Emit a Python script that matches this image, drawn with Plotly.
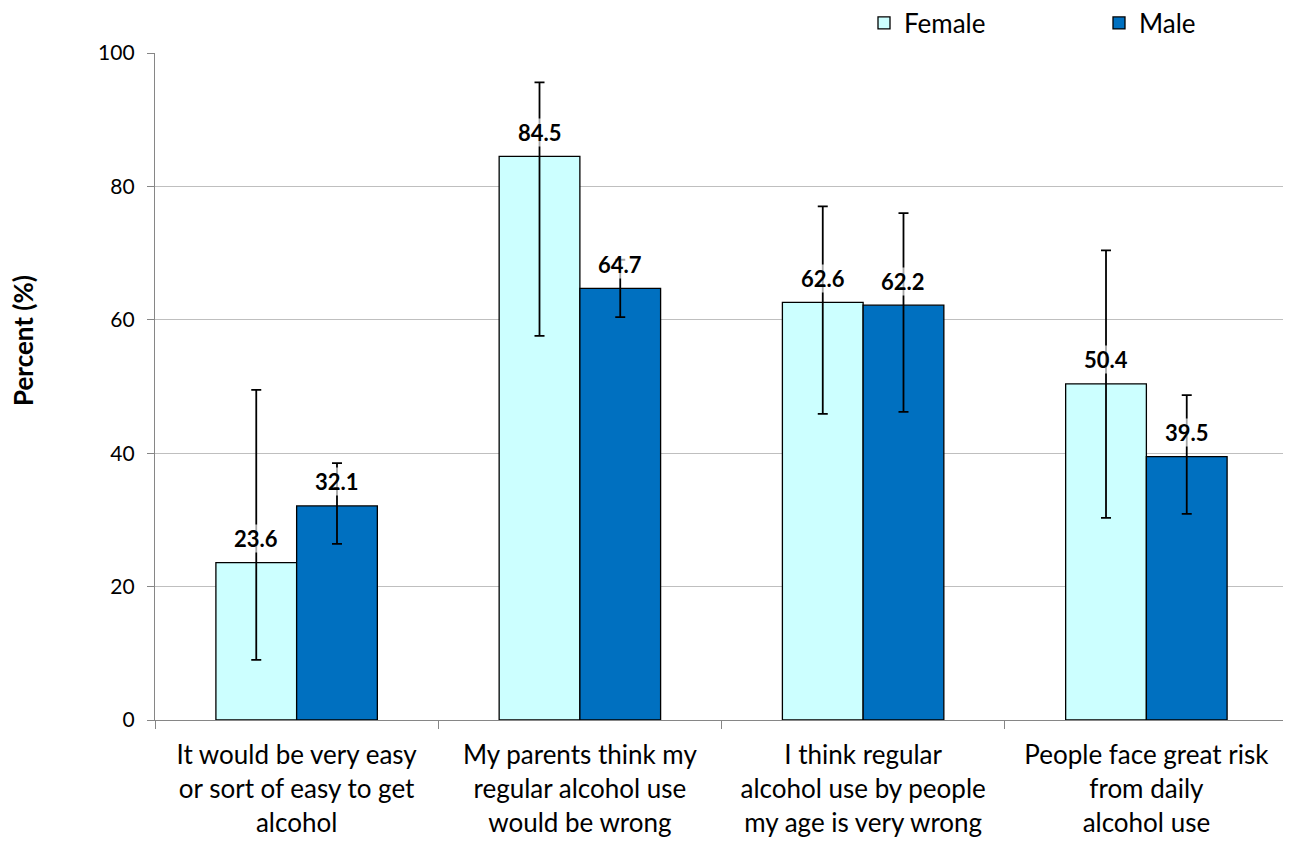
import plotly.graph_objects as go

categories = [
    "It would be very easy<br>or sort of easy to get<br>alcohol",
    "My parents think my<br>regular alcohol use<br>would be wrong",
    "I think regular<br>alcohol use by people<br>my age is very wrong",
    "People face great risk<br>from daily<br>alcohol use",
]
female = [23.6, 84.5, 62.6, 50.4]
male = [32.1, 64.7, 62.2, 39.5]
female_upper = [49.5, 95.6, 77.0, 70.4]
female_lower = [9.0, 57.6, 45.9, 30.3]
male_upper = [38.5, 69.0, 76.0, 48.7]
male_lower = [26.4, 60.4, 46.2, 30.9]

FONT = "Lato"
bargap = 0.43

W, H = 1283, 838
ml, mr, mt, mb = 147, 3, 45, 126
pw, ph = W - ml - mr, H - mt - mb

fig = go.Figure()
fig.add_trace(go.Bar(
    name="Female", x=categories, y=female,
    marker=dict(color="#CCFFFF", line=dict(color="#000000", width=1.3)),
    error_y=dict(type="data", symmetric=False,
                 array=[u - v for u, v in zip(female_upper, female)],
                 arrayminus=[v - l for v, l in zip(female, female_lower)],
                 color="#000000", thickness=1.8, width=5),
))
fig.add_trace(go.Bar(
    name="Male", x=categories, y=male,
    marker=dict(color="#0070C0", line=dict(color="#000000", width=1.3)),
    error_y=dict(type="data", symmetric=False,
                 array=[u - v for u, v in zip(male_upper, male)],
                 arrayminus=[v - l for v, l in zip(male, male_lower)],
                 color="#000000", thickness=1.8, width=5),
))

half = (1 - bargap) / 4
annotations = []
for i, (f, m) in enumerate(zip(female, male)):
    for xpos, val in ((i - half, f), (i + half, m)):
        annotations.append(dict(
            x=xpos, y=val, xref="x", yref="y", text=f"<b>{val:.1f}</b>",
            showarrow=False, yanchor="middle", yshift=24,
            font=dict(family=FONT, size=22, color="#000000"),
            bgcolor="rgba(255,255,255,0.65)", borderpad=0,
        ))
annotations.append(dict(
    x=(15 - ml) / pw, y=(H - mb - 333) / ph, xref="paper", yref="paper",
    xanchor="center", yanchor="middle",
    text="<b>Percent (%)</b>", showarrow=False, textangle=-90,
    font=dict(family=FONT, size=26, color="#000000"),
))

fig.update_layout(
    width=W, height=H,
    margin=dict(l=ml, r=mr, t=mt, b=mb, autoexpand=False),
    paper_bgcolor="white", plot_bgcolor="white",
    barmode="group", bargap=bargap, bargroupgap=0,
    font=dict(family=FONT, size=26, color="#000000"),
    showlegend=True,
    legend=dict(orientation="h", x=(856 - ml) / pw, y=1 + (mt - 15) / ph,
                xanchor="left", yanchor="middle",
                entrywidth=190, entrywidthmode="pixels", itemwidth=30,
                font=dict(family=FONT, size=26, color="#000000"),
                bgcolor="rgba(0,0,0,0)"),
    annotations=annotations,
    xaxis=dict(
        type="category", tickson="boundaries", ticks="outside", ticklen=8,
        tickcolor="#868686", showline=True, linecolor="#868686", linewidth=1.3,
        showgrid=False, tickfont=dict(family=FONT, size=26, color="#000000"),
        ticklabelstandoff=12, range=[-0.5, 3.5],
    ),
    yaxis=dict(
        range=[0, 100], tickvals=[0, 20, 40, 60, 80, 100], ticks="outside", ticklen=7,
        tickcolor="#868686", showline=True, linecolor="#868686", linewidth=1.3,
        showgrid=True, gridcolor="#BFBFBF", gridwidth=1.3, zeroline=False,
        tickfont=dict(family=FONT, size=21, color="#000000"),
        ticklabelstandoff=8,
    ),
)

fig.write_html("out.html")
